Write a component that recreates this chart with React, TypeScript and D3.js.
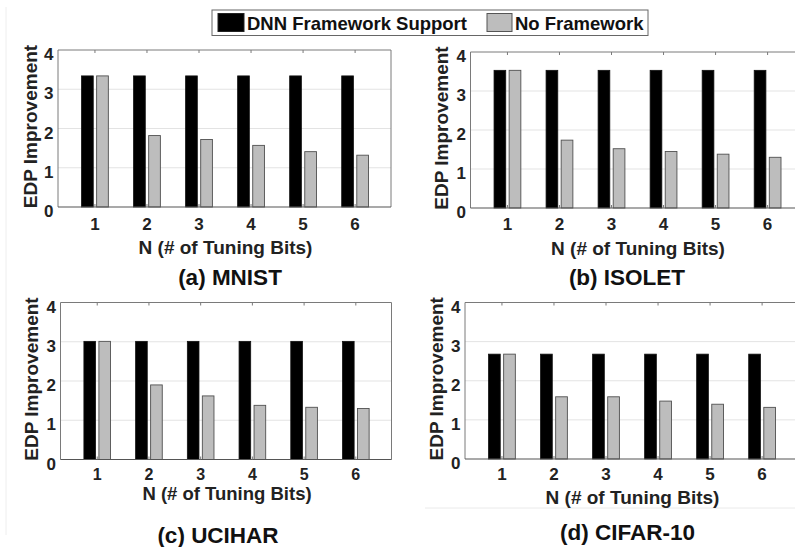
import * as d3 from "d3";

// ---- data ----
const categories = [1, 2, 3, 4, 5, 6];
const yTicks = [0, 1, 2, 3, 4];
const seriesNames = ["DNN Framework Support", "No Framework"];

const mnistDnn = [3.34, 3.34, 3.34, 3.34, 3.34, 3.34];
const mnistNoFw = [3.34, 1.82, 1.72, 1.57, 1.41, 1.32];
const isoletDnn = [3.53, 3.53, 3.53, 3.53, 3.53, 3.53];
const isoletNoFw = [3.53, 1.74, 1.52, 1.45, 1.38, 1.3];
const ucoharDnn = [3.01, 3.01, 3.01, 3.01, 3.01, 3.01];
const ucoharNoFw = [3.01, 1.9, 1.62, 1.38, 1.33, 1.3];
const cifarDnn = [2.68, 2.68, 2.68, 2.68, 2.68, 2.68];
const cifarNoFw = [2.68, 1.59, 1.59, 1.48, 1.4, 1.32];

const xLabel = "N (# of Tuning Bits)";
const yLabel = "EDP Improvement";

const panels = [
  { title: "(a) MNIST", dnn: mnistDnn, noFw: mnistNoFw, left: 58, top: 50, bottom: 207, width: 333, tickY: 229.5, tickFs: 17, xLabY: 253.5, xLabFs: 19, yLabX: 30, titleX: 230, titleY: 284.5 },
  { title: "(b) ISOLET", dnn: isoletDnn, noFw: isoletNoFw, left: 470.5, top: 52, bottom: 208, width: 333, tickY: 230, tickFs: 17, xLabY: 255, xLabFs: 19, yLabX: 441.5, titleX: 627, titleY: 285 },
  { title: "(c) UCIHAR", dnn: ucoharDnn, noFw: ucoharNoFw, left: 60.5, top: 302.5, bottom: 459.5, width: 331, tickY: 480, tickFs: 16, xLabY: 500, xLabFs: 18.5, yLabX: 31.5, titleX: 218, titleY: 543 },
  { title: "(d) CIFAR-10", dnn: cifarDnn, noFw: cifarNoFw, left: 465, top: 302.5, bottom: 459, width: 333, tickY: 480, tickFs: 17, xLabY: 503.5, xLabFs: 19, yLabX: 436.5, titleX: 627.5, titleY: 539.5 },
];

const FONT = "'Liberation Sans', Arial, Helvetica, sans-serif";
const barW = 0.225; // in category units
const barOff = 0.145;
const gridColor = "#e3e3e3";
const boxColor = "#7a7a7a";
const grayFill = "#bdbdbd";

function Panel({ p }: { p: (typeof panels)[number] }) {
  const x = d3.scaleLinear().domain([0.29, 6.69]).range([p.left, p.left + p.width]);
  const y = d3.scaleLinear().domain([0, 4]).range([p.bottom, p.top]);
  const right = p.left + p.width;
  const midY = (p.top + p.bottom) / 2;
  const midX = p.left + p.width / 2;

  return (
    <g>
      {/* horizontal grid */}
      {yTicks.slice(1, -1).map((t) => (
        <line key={"g" + t} x1={p.left} x2={right} y1={y(t)} y2={y(t)} stroke={gridColor} strokeWidth={1} />
      ))}
      {/* bars */}
      {categories.map((c, i) => (
        <g key={"b" + c}>
          <rect
            x={x(c - barOff - barW / 2)}
            y={y(p.dnn[i])}
            width={x(barW) - x(0)}
            height={y(0) - y(p.dnn[i])}
            fill="#000"
            stroke="#111"
            strokeWidth={0.8}
          />
          <rect
            x={x(c + barOff - barW / 2)}
            y={y(p.noFw[i])}
            width={x(barW) - x(0)}
            height={y(0) - y(p.noFw[i])}
            fill={grayFill}
            stroke="#505050"
            strokeWidth={0.9}
          />
        </g>
      ))}
      {/* box */}
      <line x1={p.left} x2={right} y1={p.top} y2={p.top} stroke={boxColor} strokeWidth={1} />
      <line x1={right} x2={right} y1={p.top} y2={p.bottom} stroke={boxColor} strokeWidth={1} />
      <line x1={p.left} x2={p.left} y1={p.top} y2={p.bottom} stroke={boxColor} strokeWidth={1} />
      <line x1={p.left} x2={right} y1={p.bottom} y2={p.bottom} stroke="#555" strokeWidth={1.2} />
      {/* ticks */}
      {categories.map((c) => (
        <g key={"t" + c}>
          <line x1={x(c)} x2={x(c)} y1={p.top} y2={p.top + 3} stroke={boxColor} />
          <line x1={x(c)} x2={x(c)} y1={p.bottom} y2={p.bottom - 3} stroke={boxColor} />
          <text x={x(c)} y={p.tickY} textAnchor="middle" fontSize={p.tickFs} fontWeight="bold" fontFamily={FONT} fill="#222">
            {c}
          </text>
        </g>
      ))}
      {yTicks.map((t) => (
        <text key={"y" + t} x={p.left - 4.5} y={y(t) + 10} textAnchor="end" fontSize={17} fontWeight="bold" fontFamily={FONT} fill="#222">
          {t}
        </text>
      ))}
      <text x={midX + 1} y={p.xLabY} textAnchor="middle" fontSize={p.xLabFs} fontWeight="bold" fontFamily={FONT} fill="#222">
        {xLabel}
      </text>
      <text
        transform={`translate(${p.yLabX + 6.5},${midY - 2}) rotate(-90)`}
        textAnchor="middle"
        fontSize={19}
        fontWeight="bold"
        fontFamily={FONT}
        fill="#222"
      >
        {yLabel}
      </text>
      <text x={p.titleX} y={p.titleY} textAnchor="middle" fontSize={22.5} fontWeight="bold" fontFamily={FONT} fill="#111">
        {p.title}
      </text>
    </g>
  );
}

export default function App() {
  return (
    <svg width={795} height={547} style={{ position: "absolute", left: 0, top: 0, background: "#fff" }}>
      <rect x={0} y={0} width={795} height={547} fill="#fff" />
      {/* faint scan lines from the original figure */}
      <line x1={6} x2={6} y1={7} y2={535} stroke="#eeeeee" strokeWidth={1} />
      <line x1={425} x2={795} y1={508} y2={508} stroke="#eaeaea" strokeWidth={1} />
      {panels.map((p) => (
        <Panel key={p.title} p={p} />
      ))}
      {/* legend */}
      <rect x={212} y={10} width={436} height={25.5} fill="#fff" stroke="#666" strokeWidth={1} />
      <rect x={218} y={13.5} width={26} height={18} fill="#000" stroke="#222" />
      <text x={247} y={30} fontSize={18.5} fontWeight="bold" fontFamily={FONT} fill="#111">
        {seriesNames[0]}
      </text>
      <rect x={487} y={13.5} width={25} height={18} fill={grayFill} stroke="#555" />
      <text x={515} y={30} fontSize={18.5} fontWeight="bold" fontFamily={FONT} fill="#111">
        {seriesNames[1]}
      </text>
    </svg>
  );
}
